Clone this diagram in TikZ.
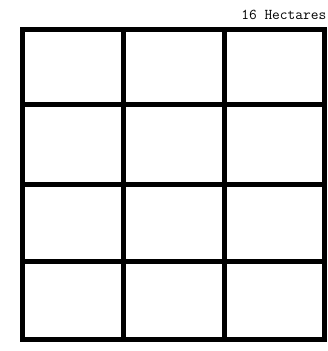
\documentclass[tikz,border=0pt]{standalone}
\usetikzlibrary{positioning}
\tikzset{gridline/.style={line width=5pt, black, line cap=rect}}

\begin{document}
\begin{tikzpicture}[x=1pt, y=-1pt]
  \useasboundingbox (0,0) rectangle (327,351);
  % 3 x 4 plots, lines measured in pixels from the top left
  \foreach \xv in {22,123.5,224.5,324.5}
    \draw[gridline] (\xv,29) -- (\xv,339);
  \foreach \yv in {29,104,184,261,339}
    \draw[gridline] (22,\yv) -- (324.5,\yv);
  \node[anchor=base east, inner sep=0pt, font=\ttfamily\fontsize{15}{16}\selectfont]
    (area) at (326.5,19.3) {16 Hectares};
\end{tikzpicture}
\end{document}
